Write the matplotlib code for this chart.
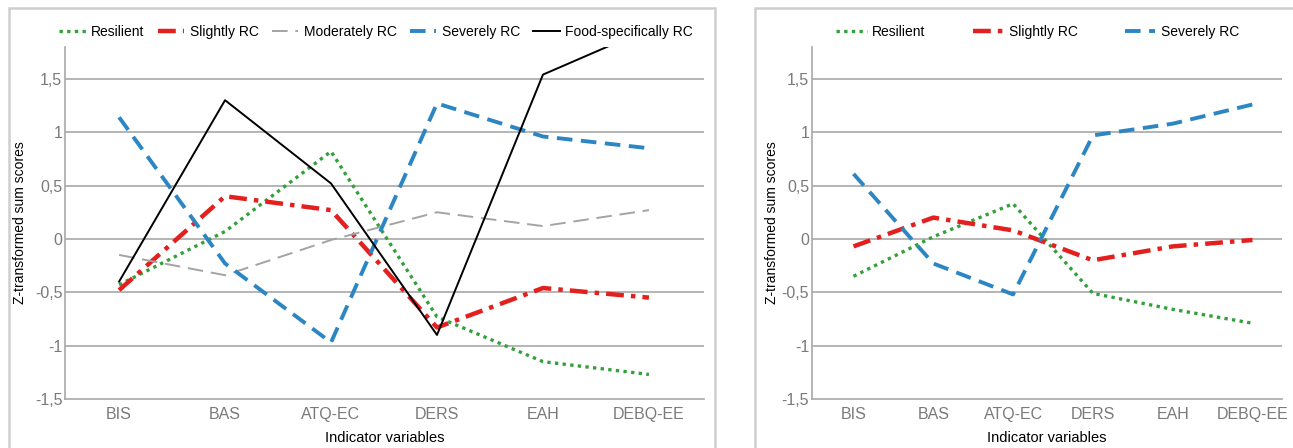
import matplotlib.pyplot as plt
from matplotlib.patches import Rectangle

plt.rcParams['font.family'] = ['Liberation Sans', 'DejaVu Sans']

# categories on the x axis
indicators = ['BIS', 'BAS', 'ATQ-EC', 'DERS', 'EAH', 'DEBQ-EE']
yticks = [-1.5, -1, -0.5, 0, 0.5, 1, 1.5]
ytick_labels = ['-1,5', '-1', '-0,5', '0', '0,5', '1', '1,5']

# left panel: five classes
left_resilient = [-0.43, 0.07, 0.82, -0.73, -1.15, -1.27]
left_slightly = [-0.48, 0.40, 0.27, -0.83, -0.46, -0.55]
left_moderately = [-0.15, -0.34, -0.01, 0.25, 0.12, 0.27]
left_severely = [1.14, -0.23, -0.97, 1.27, 0.96, 0.85]
left_food = [-0.40, 1.30, 0.52, -0.90, 1.54, 1.97]

# right panel: three classes
right_resilient = [-0.35, 0.02, 0.33, -0.51, -0.66, -0.79]
right_slightly = [-0.07, 0.20, 0.08, -0.20, -0.07, -0.01]
right_severely = [0.61, -0.23, -0.52, 0.97, 1.08, 1.26]

green = '#33a03a'
red = '#e3201e'
grey = '#a3a3a3'
blue = '#2c86c3'

styles = {
    'Resilient': dict(color=green, ls=(0, (1, 1.3)), lw=2.4),
    'Slightly RC': dict(color=red, ls=(0, (4, 1.6, 1, 1.6)), lw=3.2),
    'Moderately RC': dict(color=grey, ls=(0, (8, 4)), lw=1.4),
    'Severely RC': dict(color=blue, ls=(0, (4, 2.2)), lw=2.8),
    'Food-specifically RC': dict(color='black', ls='-', lw=1.4),
}

fig = plt.figure(figsize=(12.93, 4.48), dpi=100)

# panel frames
fig.patches.append(Rectangle((9 / 1293, -0.1), 706 / 1293, 1.082, transform=fig.transFigure,
                             fill=False, ec='#cfcfcf', lw=1.8))
fig.patches.append(Rectangle((755 / 1293, -0.1), 0.5, 1.082, transform=fig.transFigure,
                             fill=False, ec='#cfcfcf', lw=1.8))

ax1 = fig.add_axes([0.0503, 0.1094, 0.4942, 0.786])
ax2 = fig.add_axes([0.628, 0.1094, 0.3635, 0.786])

x = list(range(len(indicators)))


def style_axes(ax, xlim, ylab_x):
    ax.set_xlim(*xlim)
    ax.set_ylim(-1.5, 1.8)
    ax.set_yticks(yticks)
    ax.set_yticklabels(ytick_labels)
    ax.set_xticks(x)
    ax.set_xticklabels(indicators)
    for y in yticks[1:]:
        ax.axhline(y, color='#a8a8a8', lw=1.2, zorder=0)
    for s in ['top', 'right']:
        ax.spines[s].set_visible(False)
    ax.spines['left'].set_color('#a8a8a8')
    ax.spines['bottom'].set_color('#a8a8a8')
    ax.spines['left'].set_linewidth(1.2)
    ax.spines['bottom'].set_linewidth(1.2)
    ax.tick_params(axis='x', length=0, labelsize=11.5, labelcolor='#7a7a7a', pad=6)
    ax.tick_params(axis='y', length=0, labelsize=11.5, labelcolor='#7a7a7a', pad=2)
    ax.set_xlabel('Indicator variables', fontsize=10.5)
    ax.set_ylabel('Z-transformed sum scores', fontsize=10)
    ax.xaxis.set_label_coords(0.5, -0.09)
    ax.yaxis.set_label_coords(ylab_x, 0.5)


style_axes(ax1, (-0.51, 5.52), -0.059)
for name, vals in [('Resilient', left_resilient), ('Slightly RC', left_slightly),
                   ('Moderately RC', left_moderately), ('Severely RC', left_severely),
                   ('Food-specifically RC', left_food)]:
    ax1.plot(x, vals, label=name, **styles[name])
ax1.legend(loc='center', bbox_to_anchor=(0.487, 1.043), ncol=5, frameon=False,
           fontsize=10, handlelength=1.9, handletextpad=0.4, columnspacing=0.95)

style_axes(ax2, (-0.52, 5.37), -0.070)
for name, vals in [('Resilient', right_resilient), ('Slightly RC', right_slightly),
                   ('Severely RC', right_severely)]:
    ax2.plot(x, vals, label=name, **styles[name])
ax2.legend(loc='center', bbox_to_anchor=(0.48, 1.043), ncol=3, frameon=False,
           fontsize=10, handlelength=2.2, handletextpad=0.4, columnspacing=3.4)

fig.savefig('out.png', dpi=100)
